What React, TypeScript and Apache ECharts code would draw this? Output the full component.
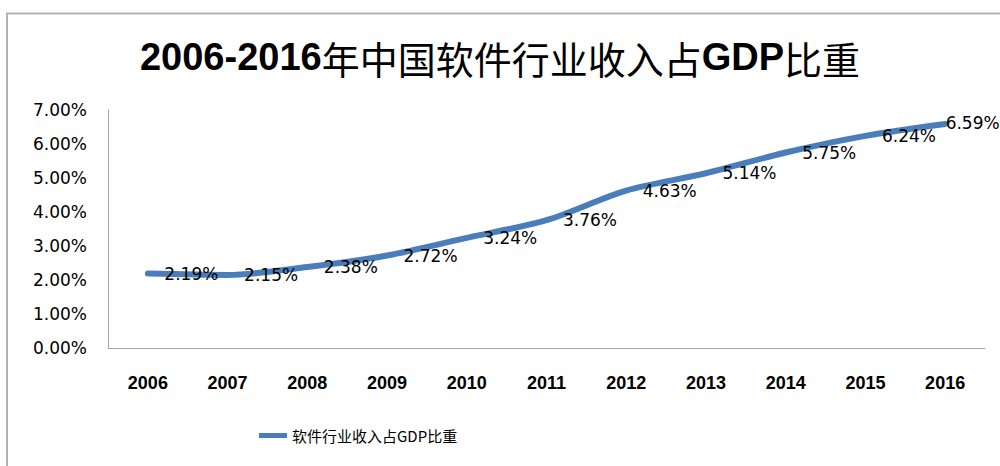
import React, { useEffect, useRef } from "react";
import * as echarts from "echarts";

const years = ["2006", "2007", "2008", "2009", "2010", "2011", "2012", "2013", "2014", "2015", "2016"];
const shares = [2.19, 2.15, 2.38, 2.72, 3.24, 3.76, 4.63, 5.14, 5.75, 6.24, 6.59];
const seriesName = "软件行业收入占GDP比重";
const titleParts = ["2006-2016", "年中国软件行业收入占", "GDP", "比重"];

export default function App() {
  const ref = useRef<HTMLDivElement>(null);
  useEffect(() => {
    if (!ref.current) return;
    const chart = echarts.init(ref.current, null, { renderer: "svg" });
    const data = shares.map((v, i) =>
      i === shares.length - 1
        ? { value: v, label: { offset: [-16, -1] } }
        : { value: v }
    );
    chart.setOption({
      animation: false,
      backgroundColor: "#ffffff",
      title: {
        text: `{b|${titleParts[0]}}{c|${titleParts[1]}}{b|${titleParts[2]}}{c|${titleParts[3]}}`,
        left: "center",
        top: 33,
        textStyle: {
          rich: {
            b: {
              fontFamily: "Liberation Sans",
              fontWeight: "bold",
              fontSize: 38,
              color: "#000",
            },
            c: {
              fontFamily: "Noto Sans CJK SC",
              fontWeight: "normal",
              fontSize: 38,
              color: "#000",
            },
          },
        },
      },
      graphic: [
        {
          type: "rect",
          shape: { x: 7, y: 13.5, width: 1000, height: 470 },
          style: { fill: "none", stroke: "#b3b3b3", lineWidth: 2 },
          silent: true,
        },
      ],
      legend: {
        bottom: 18,
        left: 254,
        itemWidth: 28,
        itemHeight: 5,
        itemGap: 4,
        icon: "rect",
        textStyle: { fontFamily: "Noto Sans CJK SC", fontSize: 15, color: "#000" },
        data: [{ name: seriesName, itemStyle: { color: "#4a7ebb", opacity: 1 } }],
      },
      grid: { left: 108, right: 15, top: 110, bottom: 118 },
      xAxis: {
        type: "category",
        data: years,
        boundaryGap: true,
        axisLine: { show: true, lineStyle: { color: "#a6a6a6", width: 1 } },
        axisTick: { show: false },
        axisLabel: {
          margin: 26,
          fontFamily: "Liberation Sans",
          fontWeight: "bold",
          fontSize: 18,
          color: "#000",
        },
      },
      yAxis: {
        type: "value",
        min: 0,
        max: 7,
        interval: 1,
        splitLine: { show: false },
        axisLine: { show: true, lineStyle: { color: "#a6a6a6", width: 1 } },
        axisTick: { show: false },
        axisLabel: {
          margin: 21,
          fontFamily: "DejaVu Sans",
          fontSize: 17,
          color: "#000",
          formatter: (v: number) => v.toFixed(2) + "%",
        },
      },
      series: [
        {
          name: seriesName,
          type: "line",
          data,
          smooth: 0.3,
          symbol: "circle",
          symbolSize: 1,
          showSymbol: true,
          lineStyle: { color: "#4a7ebb", width: 6, cap: "round" },
          itemStyle: { color: "rgba(74,126,187,0)" },
          label: {
            show: true,
            position: "right",
            distance: 16,
            opacity: 1,
            fontFamily: "DejaVu Sans",
            fontSize: 17,
            color: "#000",
            formatter: (p: any) => Number(p.value).toFixed(2) + "%",
          },
        },
      ],
    });
    return () => chart.dispose();
  }, []);
  return (
    <div
      ref={ref}
      style={{ position: "fixed", left: 0, top: 0, width: 1000, height: 466 }}
    />
  );
}
